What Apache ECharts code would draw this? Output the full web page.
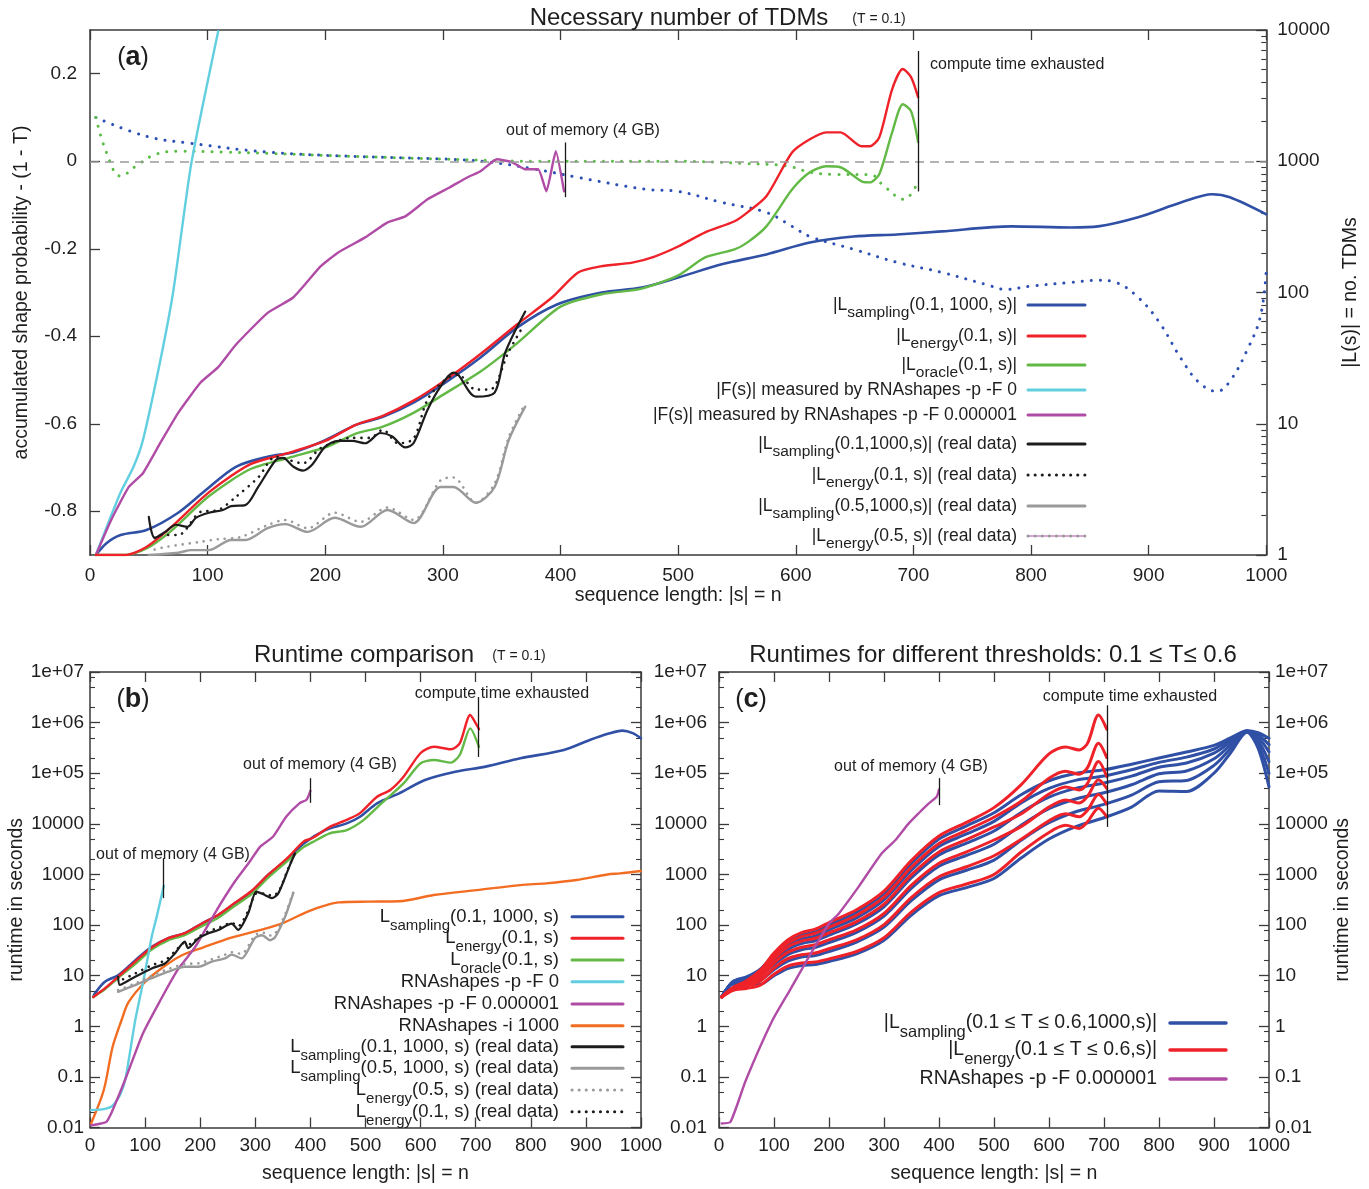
<!DOCTYPE html>
<html><head><meta charset="utf-8">
<script src="https://cdn.jsdelivr.net/npm/echarts@6/dist/echarts.min.js"></script>
<style>html,body{margin:0;padding:0;background:#fff}#c{width:1369px;height:1189px}</style>
</head><body><div id="c"></div>
<script>
// ---------------- Panel (a): number of TDMs (right log axis) ----------------
const aSampling = [[5,1],[14,1.23],[26,1.42],[48,1.55],[75,2.1],[98,3.1],[124,4.7],[151,5.6],[174,6.1],[200,7.5],[226,9.8],[249,11.3],[275,14.5],[302,20.6],[332,32],[363,54],[397,81],[435,100],[469,109],[500,130],[537,164],[575,195],[612,240],[649,267],[686,277],[724,292],[783,319],[834,313],[857,319],[891,374],[928,487],[954,560],[969,531],[1000,394]];
const aEnergy = [[5,1],[30,1.0],[48,1.15],[68,1.6],[101,3.0],[136,4.9],[169,6.0],[200,7.4],[226,9.8],[249,11.5],[275,15],[302,21.5],[332,34],[363,57],[393,92],[415,142],[434,158],[461,169],[480,188],[500,224],[523,287],[548,349],[559,408],[575,541],[597,1170],[612,1470],[626,1660],[638,1660],[656,1300],[663,1300],[671,1520],[682,3550],[691,5040],[698,4380],[704,3080]];
const aOracle = [[5,1],[30,1.0],[48,1.12],[68,1.5],[101,2.8],[136,4.5],[169,5.5],[200,6.6],[226,8.4],[249,9.5],[275,12.1],[300,16.6],[332,25],[363,41],[400,78],[435,97],[469,107],[500,135],[523,185],[548,213],[559,241],[575,319],[597,611],[612,824],[626,916],[638,900],[656,703],[663,690],[671,796],[682,1665],[691,2720],[698,2410],[704,1400]];
const aRnaF0 = [[5,1],[18,2.0],[26,3.0],[37,4.7],[45,7.5],[60,31],[71,105],[86,950],[109,9800]];
const aRnaF6 = [[5,1],[18,1.85],[33,3.3],[45,4.2],[60,7.2],[75,12.1],[94,20.6],[109,27],[124,40],[151,70],[173,92],[196,158],[211,202],[234,263],[253,342],[268,380],[287,513],[306,634],[321,755],[332,839],[346,1036],[359,982],[370,869],[381,869],[388,590],[396,1191],[403,590]];
const aRealSampling01 = [[50,1.95],[55,1.35],[64,1.5],[73,1.7],[83,1.64],[90,1.92],[101,2.1],[113,2.2],[120,2.36],[132,2.4],[143,3.3],[158,5.3],[164,5.5],[173,4.7],[181,4.4],[189,4.9],[200,6.7],[211,7.4],[223,7.4],[234,7.1],[247,8.5],[257,8.0],[268,6.6],[275,7.1],[287,12.8],[298,19.2],[309,24.5],[313,23.6],[328,16.1],[344,17.3],[353,34.8],[370,71.6]];
const aRealEnergy01 = [[55,1.35],[60,1.42],[75,1.42],[94,2.13],[109,2.2],[124,2.77],[143,3.9],[158,5.6],[181,5.0],[196,6.5],[223,7.8],[238,7.8],[249,9.0],[262,7.1],[275,7.7],[287,15.3],[302,21.7],[313,23.6],[328,18.2],[340,18.2],[356,35.5],[368,55]];
const aRealSampling05 = [[50,1.0],[75,1.04],[86,1.09],[101,1.09],[120,1.3],[132,1.3],[151,1.6],[166,1.72],[185,1.5],[208,1.92],[230,1.64],[253,2.2],[275,1.75],[298,3.3],[309,3.3],[328,2.5],[344,3.3],[356,7.5],[370,13.5]];
const aRealEnergy05 = [[55,1.1],[64,1.15],[94,1.26],[109,1.32],[128,1.37],[151,1.69],[166,1.85],[185,1.6],[208,2.1],[230,1.79],[253,2.3],[275,1.85],[298,3.7],[309,3.9],[328,2.5],[344,3.5],[356,7.9],[368,13.2]];
// panel (a): accumulated shape probability - (1 - T) (left axis)
const aProbSampling = [[5,0.10],[48,0.057],[86,0.041],[151,0.021],[226,0.011],[302,0.005],[340,-0.002],[378,-0.018],[415,-0.037],[472,-0.064],[500,-0.069],[537,-0.094],[575,-0.117],[597,-0.149],[612,-0.172],[649,-0.201],[686,-0.231],[724,-0.254],[761,-0.281],[779,-0.293],[798,-0.286],[834,-0.277],[857,-0.272],[872,-0.277],[891,-0.311],[909,-0.368],[928,-0.453],[943,-0.506],[958,-0.526],[969,-0.503],[984,-0.43],[995,-0.355],[1000,-0.25]];
const aProbOracle = [[5,0.10],[14,0.02],[26,-0.034],[41,-0.007],[56,0.016],[75,0.023],[113,0.021],[151,0.018],[226,0.011],[302,0.005],[378,0.0],[500,0.0],[556,-0.005],[593,-0.011],[612,-0.025],[631,-0.03],[663,-0.03],[675,-0.057],[692,-0.087],[704,-0.046]];

// ---------------- Panel (b): runtime comparison ----------------
const bSampling = [[6,3.8],[9,4.5],[27,7.6],[51,10.2],[82,20],[112,37],[142,55],[172,69],[203,107],[233,158],[263,269],[293,457],[324,1000],[357,1930],[388,4100],[427,7500],[466,10200],[490,13800],[521,25400],[561,40000],[608,73400],[663,107000],[718,135000],[781,197000],[860,288000],[907,453000],[940,600000],[966,693000],[985,620000],[1000,490000]];
const bEnergy = [[6,3.8],[15,4.5],[27,5.6],[51,9.5],[82,19],[112,36],[142,55],[172,69],[203,107],[233,160],[263,275],[293,470],[324,1000],[357,2050],[388,4500],[403,5200],[435,8700],[466,12000],[490,16300],[521,34300],[545,46600],[569,85000],[600,251000],[624,334000],[655,297000],[671,389000],[690,1410000],[702,890000],[706,740000]];
const bOracle = [[6,3.8],[15,4.4],[27,5.4],[51,9.0],[82,17],[112,33],[142,50],[172,63],[203,95],[233,140],[263,240],[293,410],[324,880],[357,1800],[388,3500],[403,4300],[435,6500],[466,7530],[497,12000],[529,25400],[569,63000],[600,157000],[624,182000],[655,162000],[671,229000],[690,770000],[706,330000]];
const bRnaF0 = [[2,0.022],[25,0.023],[41,0.027],[55,0.045],[65,0.1],[82,1.3],[97,8],[112,59],[121,145],[134,600]];
const bRnaF6 = [[2,0.011],[20,0.012],[30,0.013],[41,0.022],[65,0.095],[96,0.72],[128,3.3],[159,13],[191,37],[230,198],[262,700],[290,1800],[309,3550],[332,5560],[356,13800],[380,25400],[393,30000],[400,45000]];
const bRnaI1000 = [[2,0.012],[25,0.055],[41,0.39],[57,1.3],[70,3.0],[100,7.5],[130,14],[166,25],[205,36],[258,57],[315,83],[352,112],[388,170],[414,220],[451,280],[505,290],[561,295],[624,392],[702,490],[781,616],[828,667],[883,775],[939,1000],[962,1050],[1000,1170]];
const bRealSampling01 = [[51,9.5],[54,6.6],[65,7.5],[82,9.5],[112,13.9],[136,17.4],[154,27.5],[172,47],[178,35],[197,55],[215,69],[233,80],[257,107],[269,80],[287,170],[302,457],[318,390],[330,339],[342,427],[363,1550],[372,2600]];
const bRealSampling05 = [[51,4.8],[82,6.5],[112,8.9],[142,12],[172,15],[197,15],[221,19],[245,22],[257,26],[275,22],[299,55],[312,63],[327,50],[336,58],[354,145],[369,430]];
const bRealEnergy05 = [[51,5.2],[82,7],[112,10],[142,13.5],[172,17],[197,17.5],[221,21],[245,26],[257,29],[275,27],[299,62],[312,72],[327,62],[336,68],[354,160],[369,450]];
const bRealEnergy01 = [[60,8.5],[82,11],[112,16],[136,20],[154,30],[172,45],[182,42],[197,58],[215,75],[233,88],[257,110],[269,95],[287,190],[302,420],[318,420],[330,380],[342,450],[363,1600],[372,2600]];

// ---------------- Panel (c): runtimes for thresholds 0.1..0.6 ----------------
const cBlueN = [5,25,50,75,100,125,150,175,200,250,300,350,400,450,500,550,600,650,700,750,800,850,900,930,960,980,1000];
const cSamplingT1 = [3.8,7.6,9.5,13.5,26,46,63,74,100,178,417,1660,5000,9100,16600,38000,71000,100000,117000,151000,200000,263000,355000,500000,692000,631000,490000];
const cSamplingT2 = [3.8,7.5,9.1,12.3,23,39,53,61,80,139,316,1220,3580,6300,11200,26200,50000,73000,88000,117000,164000,208000,301000,458000,685000,577000,367000];
const cSamplingT3 = [3.8,7.3,8.7,11.1,20,33,43,49,63,105,230,860,2430,4150,7200,17000,33700,50800,64000,87500,131000,159000,249000,413000,679000,520000,264000];
const cSamplingT4 = [3.8,7.2,8.1,9.7,16.5,26,32.5,36,45,72,151,537,1450,2370,3950,9500,19900,31300,41100,59200,97300,111000,193000,360000,670000,453000,169000];
const cSamplingT5 = [3.8,7.0,7.4,8.2,13.1,19.3,23.3,25,30,46,91,306,783,1210,1920,4800,10500,17500,24300,37000,68000,72100,143000,305000,658000,384000,100000];
const cSamplingT6 = [3.8,6.8,6.8,6.8,10,13.8,15.8,16.6,19,27,50,158,380,550,830,2140,5000,8900,13200,21400,44700,43700,100000,251000,646000,316000,53700];
const cRedN = [5,25,50,75,100,125,150,175,200,250,300,350,400,450,500,550,600,630,655,670,690,705];
const cEnergyT1 = [3.8,5.8,7.9,12.9,28,51,71,83,112,200,468,1900,5750,10700,20900,60300,240000,331000,288000,389000,1410000,741000];
const cEnergyT2 = [3.8,5.7,7.6,11.8,25,44,59,69,90,156,355,1400,4110,7430,13500,28200,79400,110000,95500,129000,389000,204000];
const cEnergyT3 = [3.8,5.6,7.2,10.6,21.5,37,48,55,70,117,258,990,2790,4880,8700,15800,38900,53700,46800,63100,170000,85100];
const cEnergyT4 = [3.8,5.4,6.7,9.2,17.7,29,36.5,41,51,80,169,617,1670,2780,4790,8900,21400,29500,25700,34700,74100,50100];
const cEnergyT5 = [3.8,5.3,6.2,7.8,14.1,21.7,26,28,34,51,102,352,900,1420,2340,5000,11500,15800,13800,18600,38000,24500];
const cEnergyT6 = [3.8,5.1,5.6,6.5,10.7,15.5,17.8,18.6,21.4,30,56,182,437,646,1000,2800,6760,9330,8130,11000,20400,13800];
const cRnaF6 = [[5,0.012],[21,0.013],[49,0.087],[97,1.3],[129,5.2],[169,30],[201,110],[218,170],[254,575],[296,2630],[321,4800],[345,10200],[363,16200],[381,25100],[396,34600],[400,48000]];

// ---------------- tick labels ----------------
const xTickText = ['0','100','200','300','400','500','600','700','800','900','1000'];
const probTicks = [-0.8,-0.6,-0.4,-0.2,0,0.2];
const probTickText = ['-0.8','-0.6','-0.4','-0.2','0','0.2'];
const tdmTicks = [1,10,100,1000,10000];
const tdmTickText = ['1','10','100','1000','10000'];
const rtTicks = [0.01,0.1,1,10,100,1000,10000,100000,1000000,10000000];
const rtTickText = ['0.01','0.1','1','10','100','1000','10000','1e+05','1e+06','1e+07'];

// ---------------- styling ----------------
const FF = '"Liberation Sans", Arial, Helvetica, sans-serif';
const C = {blue:'#3050a6', red:'#ee2228', green:'#63b946', cyan:'#62cfe0', mag:'#b04ca6', black:'#1c1c1c', gray:'#9a9a9a', orange:'#f26c22', dblue:'#2c4fb4', dgreen:'#5cbc48'};
const axisCol = '#3a3a3a';
const txtCol = '#1e1e1e';

function zip(ns, vs){ return ns.map((n,i)=>[n, vs[i]]); }
function minorTicks(lo, hi, mult){ const out=[]; for(let d=lo; d<hi*0.999; d*=10){ mult.forEach(m=>out.push(d*m)); } return out; }

const major = {show:true, inside:true, length:10, lineStyle:{color:axisCol, width:1.3}};
const minor = {show:true, inside:true, length:5, lineStyle:{color:axisCol, width:1.1}};
const aline = {show:true, onZero:false, lineStyle:{color:axisCol, width:1.5}};
const lblBase = {fontSize:19, fontFamily:FF, color:txtCol};
const nameStyle = {fontSize:19.5, fontFamily:FF, color:txtCol};

function xAx(grid, pos, showLbl, name, gap, margin){
  const o = {gridIndex:grid, type:'value', min:0, max:1000, interval:100, position:pos,
    axisLine:aline, axisTick:major, splitLine:{show:false},
    axisLabel: showLbl ? Object.assign({margin:margin||9, formatter:v=>xTickText[Math.round(v/100)]}, lblBase) : {show:false}};
  if(name){ Object.assign(o,{name, nameLocation:'middle', nameGap:gap, nameTextStyle:nameStyle}); }
  return o;
}
function logAx(grid, pos, mn, mx, ticks, texts, showLbl, margin, tickStyle, lineShow, name, gap){
  const o = {gridIndex:grid, type:'log', logBase:10, min:mn, max:mx, position:pos,
    axisLine: lineShow ? aline : {show:false, onZero:false},
    axisTick: Object.assign({customValues:ticks}, tickStyle), splitLine:{show:false}, minorTick:{show:false},
    axisLabel: showLbl ? Object.assign({margin, customValues:ticks, formatter:v=>texts[Math.round(Math.log10(v)-Math.log10(mn))]}, lblBase) : {show:false}};
  if(name){ Object.assign(o,{name, nameLocation:'middle', nameRotate:90, nameGap:gap, nameTextStyle:nameStyle}); }
  return o;
}

const tdmMinor = minorTicks(1, 10000, [2,3,4,5,6,7,8,9]);
const rtMinor = minorTicks(0.01, 1e7, [2,5,8]);

function ln(name, data, xi, yi, color, width, dash, extra){
  return Object.assign({type:'line', name, data, xAxisIndex:xi, yAxisIndex:yi, showSymbol:false, symbol:'none',
    smooth:0.3, clip:true, lineStyle:{color, width, type:dash||'solid', cap:'round', join:'round'}}, extra||{});
}
const annLine = {color:'#1a1a1a', width:1.3, type:'solid'};
function vmark(pairs){
  return {silent:true, symbol:['none','none'], label:{show:false}, lineStyle:annLine,
    data: pairs.map(p=>[{coord:[p[0],p[1]]},{coord:[p[0],p[2]]}])};
}

const series = [
  // (a) left axis probability curves
  ln('prob sampling', aProbSampling, 0, 0, C.dblue, 3, [0.1,9], {smooth:0.4, z:3,
    markLine:{silent:true, symbol:['none','none'], label:{show:false}, lineStyle:{color:'#9a9a9a', width:1.5, type:[9,6]},
      data:[{yAxis:0},
            [{coord:[404,0.043], lineStyle:annLine},{coord:[404,-0.082]}],
            [{coord:[704,0.252], lineStyle:annLine},{coord:[704,-0.069]}]]}}),
  ln('prob oracle', aProbOracle, 0, 0, C.dgreen, 3, [0.1,9], {smooth:0.4, z:3}),
  // (a) right axis TDMs
  ln('|L_sampling(0.1, 1000, s)|', aSampling, 0, 1, C.blue, 2.6),
  ln('|F(s)| -p -F 0', aRnaF0, 0, 1, C.cyan, 2.4, null, {smooth:0.2}),
  ln('|F(s)| -p -F 0.000001', aRnaF6, 0, 1, C.mag, 2.4, null, {smooth:0.15}),
  ln('|L_oracle(0.1, s)|', aOracle, 0, 1, C.green, 2.4, null, {smooth:0.25}),
  ln('|L_energy(0.1, s)|', aEnergy, 0, 1, C.red, 2.4, null, {smooth:0.25}),
  ln('real sampling 0.5', aRealSampling05, 0, 1, C.gray, 2.4, null, {smooth:0.3}),
  ln('real energy 0.5', aRealEnergy05, 0, 1, C.gray, 2.6, [0.1,7], {smooth:0.3}),
  ln('real sampling 0.1', aRealSampling01, 0, 1, C.black, 2.2, null, {smooth:0.3}),
  ln('real energy 0.1', aRealEnergy01, 0, 1, C.black, 2.6, [0.1,7], {smooth:0.3}),
  // (b)
  ln('b orange', bRnaI1000, 2, 3, C.orange, 2.4),
  ln('b sampling', bSampling, 2, 3, C.blue, 2.6),
  ln('b oracle', bOracle, 2, 3, C.green, 2.4, null, {smooth:0.25}),
  ln('b energy', bEnergy, 2, 3, C.red, 2.4, null, {smooth:0.25, markLine:vmark([[705,3.2e6,2.1e5]])}),
  ln('b cyan', bRnaF0, 2, 3, C.cyan, 2.4, null, {smooth:0.2, markLine:vmark([[133,2100,340]])}),
  ln('b magenta', bRnaF6, 2, 3, C.mag, 2.4, null, {smooth:0.2, markLine:vmark([[400,80000,26000]])}),
  ln('b gray', bRealSampling05, 2, 3, C.gray, 2.4, null, {smooth:0.25}),
  ln('b gray dots', bRealEnergy05, 2, 3, C.gray, 2.6, [0.1,7], {smooth:0.25}),
  ln('b black', bRealSampling01, 2, 3, C.black, 2.2, null, {smooth:0.25}),
  ln('b black dots', bRealEnergy01, 2, 3, C.black, 2.6, [0.1,7], {smooth:0.25}),
  // (c)
  ln('c s1', zip(cBlueN,cSamplingT1), 4, 7, C.blue, 3),
  ln('c s2', zip(cBlueN,cSamplingT2), 4, 7, C.blue, 3),
  ln('c s3', zip(cBlueN,cSamplingT3), 4, 7, C.blue, 3),
  ln('c s4', zip(cBlueN,cSamplingT4), 4, 7, C.blue, 3),
  ln('c s5', zip(cBlueN,cSamplingT5), 4, 7, C.blue, 3),
  ln('c s6', zip(cBlueN,cSamplingT6), 4, 7, C.blue, 3),
  ln('c e1', zip(cRedN,cEnergyT1), 4, 7, C.red, 3, null, {markLine:vmark([[706,2.2e6,8700]])}),
  ln('c e2', zip(cRedN,cEnergyT2), 4, 7, C.red, 3),
  ln('c e3', zip(cRedN,cEnergyT3), 4, 7, C.red, 3),
  ln('c e4', zip(cRedN,cEnergyT4), 4, 7, C.red, 3),
  ln('c e5', zip(cRedN,cEnergyT5), 4, 7, C.red, 3),
  ln('c e6', zip(cRedN,cEnergyT6), 4, 7, C.red, 3),
  ln('c magenta', cRnaF6, 4, 7, C.mag, 2.4, null, {smooth:0.2, markLine:vmark([[401,80000,23400]])})
];

// ---------------- graphic: titles, annotations, legends ----------------
function T(x, y, text, size, align, extra){
  return {type:'text', x, y, silent:true, z:100,
    style: Object.assign({text, fontSize:size, fontFamily:FF, fill:txtCol, align:align||'center', verticalAlign:'middle'}, extra||{})};
}
function richStyle(size, subSize){
  return {rich:{s:{fontSize:subSize, fontFamily:FF, fill:txtCol, verticalAlign:'bottom', lineHeight:Math.round(size*1.8)}}};
}
function seg(x1, x2, y, color, width, dash){
  return {type:'line', silent:true, z:100, shape:{x1, y1:y, x2, y2:y},
    style:{stroke:color, lineWidth:width, lineDash:dash||null, lineCap:'round'}};
}
function legend(items, xText, x1, x2, ys, size, subSize){
  const out = [];
  items.forEach((it,i)=>{
    out.push(T(xText, ys[i], it.t, size, 'right', richStyle(size, subSize)));
    (it.lines).forEach(L=>out.push(seg(x1, x2, ys[i], L[0], L[1], L[2])));
  });
  return out;
}
const legA = [
  {t:'|L{s|sampling}(0.1, 1000, s)|', lines:[[C.blue,3]]},
  {t:'|L{s|energy}(0.1, s)|', lines:[[C.red,3]]},
  {t:'|L{s|oracle}(0.1, s)|', lines:[[C.green,3]]},
  {t:'|F(s)| measured by RNAshapes -p -F 0', lines:[[C.cyan,3]]},
  {t:'|F(s)| measured by RNAshapes -p -F 0.000001', lines:[[C.mag,3]]},
  {t:'|L{s|sampling}(0.1,1000,s)| (real data)', lines:[[C.black,3]]},
  {t:'|L{s|energy}(0.1, s)| (real data)', lines:[[C.black,3,[0.1,7]]]},
  {t:'|L{s|sampling}(0.5,1000,s)| (real data)', lines:[[C.gray,3]]},
  {t:'|L{s|energy}(0.5, s)| (real data)', lines:[[C.mag,1],[C.gray,3,[0.1,7]]]}
];
const legB = [
  {t:'L{s|sampling}(0.1, 1000, s)', lines:[[C.blue,3]]},
  {t:'L{s|energy}(0.1, s)', lines:[[C.red,3]]},
  {t:'L{s|oracle}(0.1, s)', lines:[[C.green,3]]},
  {t:'RNAshapes -p -F 0', lines:[[C.cyan,3]]},
  {t:'RNAshapes -p -F 0.000001', lines:[[C.mag,3]]},
  {t:'RNAshapes -i 1000', lines:[[C.orange,3]]},
  {t:'L{s|sampling}(0.1, 1000, s) (real data)', lines:[[C.black,3]]},
  {t:'L{s|sampling}(0.5, 1000, s) (real data)', lines:[[C.gray,3]]},
  {t:'L{s|energy}(0.5, s) (real data)', lines:[[C.gray,3,[0.1,7]]]},
  {t:'L{s|energy}(0.1, s) (real data)', lines:[[C.black,3,[0.1,7]]]}
];
const legC = [
  {t:'|L{s|sampling}(0.1 ≤ T ≤ 0.6,1000,s)|', lines:[[C.blue,3.5]]},
  {t:'|L{s|energy}(0.1 ≤ T ≤ 0.6,s)|', lines:[[C.red,3.5]]},
  {t:'RNAshapes -p -F 0.000001', lines:[[C.mag,3.5]]}
];
function panelLabel(x, y, letter){
  return T(x, y, '({b|'+letter+'})', 25, 'center', {rich:{b:{fontSize:27, fontWeight:'bold', fontFamily:FF, fill:txtCol}}});
}
const graphic = [].concat(
  [T(679,18,'Necessary number of TDMs',24), T(879,19,'(T = 0.1)',14),
   T(364,655,'Runtime comparison',24), T(519,656,'(T = 0.1)',14),
   T(993,655,'Runtimes for different thresholds: 0.1 ≤ T≤ 0.6',24),
   panelLabel(133,58,'a'), panelLabel(133,700,'b'), panelLabel(751,700,'c'),
   T(583,131,'out of memory (4 GB)',16), T(930,65,'compute time exhausted',16,'left'),
   T(502,694,'compute time exhausted',16), T(320,765,'out of memory (4 GB)',16), T(173,855,'out of memory (4 GB)',16),
   T(911,767,'out of memory (4 GB)',16), T(1130,697,'compute time exhausted',16)],
  legend(legA, 1017, 1028, 1085, [305,336,365,390,415,444,475,506,536], 17.5, 15.5),
  legend(legB, 559, 572, 623, [916.7,938.3,960,981.7,1004,1025.7,1046.7,1068.3,1090,1111.7], 18.5, 15),
  legend(legC, 1157, 1170, 1226, [1023,1050,1079], 19.5, 16.5)
);

const option = {
  animation:false,
  backgroundColor:'#fff',
  textStyle:{fontFamily:FF},
  grid:[
    {left:90, top:30, width:1180, height:525},
    {left:90, top:672, width:551, height:455.5},
    {left:719, top:672, width:550, height:455.5}
  ],
  xAxis:[
    xAx(0,'bottom',true,'sequence length: |s| = n',31,11),
    xAx(0,'top',false),
    xAx(1,'bottom',true,'sequence length: |s| = n',36),
    xAx(1,'top',false),
    xAx(2,'bottom',true,'sequence length: |s| = n',36),
    xAx(2,'top',false)
  ],
  yAxis:[
    {gridIndex:0, type:'value', min:-0.9, max:0.3, position:'left', axisLine:aline,
     axisTick:Object.assign({customValues:probTicks}, major), splitLine:{show:false},
     axisLabel:Object.assign({margin:13, customValues:probTicks, formatter:v=>probTickText[Math.round((v+0.8)/0.2)]}, lblBase),
     name:'accumulated shape probability - (1 - T)', nameLocation:'middle', nameRotate:90, nameGap:58, nameTextStyle:nameStyle},
    logAx(0,'right',1,10000,tdmTicks,tdmTickText,true,11,major,true,'|L(s)| = no. TDMs',58),
    logAx(0,'right',1,10000,tdmMinor,null,false,0,minor,false),
    logAx(1,'left',0.01,1e7,rtTicks,rtTickText,true,6,major,true,'runtime in seconds',62),
    logAx(1,'left',0.01,1e7,rtMinor,null,false,0,minor,false),
    logAx(1,'right',0.01,1e7,rtTicks,null,false,0,major,true),
    logAx(1,'right',0.01,1e7,rtMinor,null,false,0,minor,false),
    logAx(2,'left',0.01,1e7,rtTicks,rtTickText,true,12,major,true),
    logAx(2,'left',0.01,1e7,rtMinor,null,false,0,minor,false),
    logAx(2,'right',0.01,1e7,rtTicks,rtTickText,true,6,major,true,'runtime in seconds',62),
    logAx(2,'right',0.01,1e7,rtMinor,null,false,0,minor,false)
  ],
  series,
  graphic
};
const chart = echarts.init(document.getElementById('c'));
chart.setOption(option);
</script>
</body></html>
